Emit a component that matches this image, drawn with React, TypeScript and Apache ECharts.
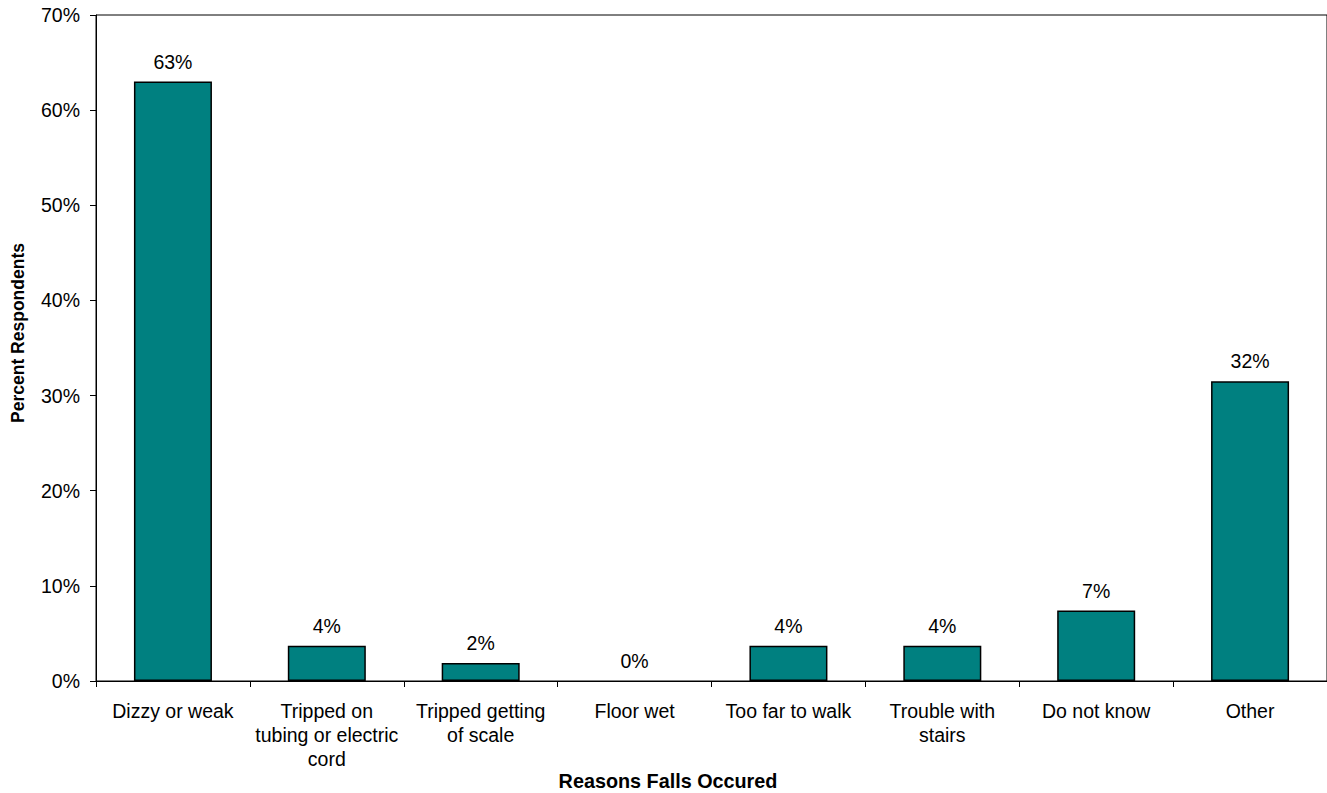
import React, { useEffect, useRef } from "react";
import * as echarts from "echarts";

const categories = [
  "Dizzy or weak",
  "Tripped on\ntubing or electric\ncord",
  "Tripped getting\nof scale",
  "Floor wet",
  "Too far to walk",
  "Trouble with\nstairs",
  "Do not know",
  "Other",
];
const percentValues = [63, 3.7, 1.9, 0, 3.7, 3.7, 7.4, 31.5];
const yTicks = { min: 0, max: 70, interval: 10 };
const xTitle = "Reasons Falls Occured";
const yTitle = "Percent Respondents";

const FONT = "'Liberation Sans', Arial, Helvetica, sans-serif";

export default function App() {
  const ref = useRef<HTMLDivElement>(null);
  useEffect(() => {
    if (!ref.current) return;
    const chart = echarts.init(ref.current, null, { renderer: "svg" });
    chart.setOption({
      animation: false,
      backgroundColor: "#ffffff",
      textStyle: { fontFamily: FONT },
      grid: {
        left: 96,
        right: -1,
        top: 15,
        bottom: 112,
        show: true,
        borderColor: "#000",
        borderWidth: 1,
        backgroundColor: "transparent",
      },
      xAxis: {
        type: "category",
        data: categories,
        axisLine: { lineStyle: { color: "#000", width: 1 } },
        axisTick: { show: true, length: 6, lineStyle: { color: "#000" } },
        axisLabel: {
          interval: 0,
          color: "#000",
          fontSize: 19.5,
          fontFamily: FONT,
          lineHeight: 24,
          margin: 18,
        },
        splitLine: { show: false },
      },
      yAxis: {
        type: "value",
        min: yTicks.min,
        max: yTicks.max,
        interval: yTicks.interval,
        axisLine: { show: true, lineStyle: { color: "#000", width: 1 } },
        axisTick: { show: true, length: 6, lineStyle: { color: "#000" } },
        axisLabel: {
          color: "#000",
          fontSize: 19.5,
          fontFamily: FONT,
          margin: 16,
          formatter: "{value}%",
        },
        splitLine: { show: false },
      },
      graphic: [
        {
          type: "text",
          x: 18,
          y: 333,
          rotation: Math.PI / 2,
          style: {
            text: yTitle,
            fill: "#000",
            font: `bold 17.5px ${FONT}`,
            textAlign: "center",
            textVerticalAlign: "middle",
          },
        },
        {
          type: "text",
          x: 668,
          y: 781,
          style: {
            text: xTitle,
            fill: "#000",
            font: `bold 19.8px ${FONT}`,
            textAlign: "center",
            textVerticalAlign: "middle",
          },
        },
      ],
      series: [
        {
          type: "bar",
          data: percentValues.map((v) =>
            v === 0 ? { value: v, itemStyle: { borderWidth: 0 } } : v
          ),
          barWidth: 78,
          itemStyle: {
            color: "#008080",
            borderColor: "#000",
            borderWidth: 1.5,
          },
          label: {
            show: true,
            position: "top",
            distance: 10,
            color: "#000",
            fontSize: 19.5,
            fontFamily: FONT,
            formatter: (p: any) => Math.round(p.value) + "%",
          },
        },
      ],
    });
    return () => chart.dispose();
  }, []);
  return (
    <div
      ref={ref}
      style={{ position: "fixed", left: 0, top: 0, width: 1327, height: 793 }}
    />
  );
}
